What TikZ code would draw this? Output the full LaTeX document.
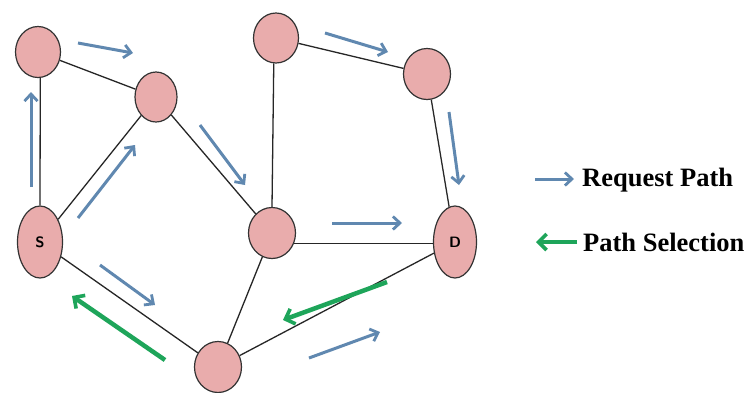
\documentclass[tikz,border=0pt]{standalone}
\usepackage{fontspec}
\setmainfont{Liberation Serif}
\usetikzlibrary{shapes.geometric,arrows.meta}
\definecolor{nodepink}{RGB}{233,172,172}
\definecolor{reqblue}{RGB}{96,136,176}
\definecolor{selgreen}{RGB}{30,165,90}
\tikzset{
  netnode/.style={ellipse,draw=black!80,line width=1.2pt,fill=nodepink,inner sep=0pt,
    minimum width=45pt,minimum height=51pt,font=\sffamily\bfseries\fontsize{15}{16}\selectfont},
  tallnode/.style={netnode,minimum height=72pt},
  link/.style={draw=black!85,line width=1.3pt},
  reqarrow/.style={draw=reqblue,line width=3pt,-{Straight Barb[length=7pt,width=13pt,line width=2.8pt]}},
  selarrow/.style={draw=selgreen,line width=4.5pt,-{Straight Barb[length=8pt,width=16pt,line width=3.6pt]}},
  legendtext/.style={anchor=west,inner sep=0pt,font=\bfseries\fontsize{26.5}{30}\selectfont}
}
\begin{document}
\begin{tikzpicture}[x=1pt,y=-1pt]
\useasboundingbox (0,0) rectangle (750,392);
\fill[white] (0,0) rectangle (750,392);
% nodes
\node[netnode] (A) at (38,52) {};
\node[netnode,minimum width=42pt,minimum height=50pt] (B) at (156,97) {};
\node[netnode,minimum height=50pt] (C) at (276,38) {};
\node[netnode,minimum width=47pt] (E) at (427,74) {};
\node[tallnode] (S) at (40,242) {S};
\node[netnode,minimum width=47pt] (M) at (272,233) {};
\node[tallnode,minimum width=43pt] (D) at (455,242) {D};
\node[netnode,minimum width=47pt] (F) at (218,367) {};
% links
\draw[link] (A) -- (B);
\draw[link] (A.-85) -- (S.north);
\draw[link] (S) -- (B);
\draw[link] (S) -- (F);
\draw[link] (B) -- (M);
\draw[link] (C.-95) -- (M.north);
\draw[link] (C) -- (E);
\draw[link] (E) -- (D);
\draw[link] (M.-25) -- (M.-25 -| D.west);
\draw[link] (M) -- (F);
\draw[link] (D) -- (F);
% request path arrows
\coordinate (r1a) at (31,187); \coordinate (r1b) at (31,92);
\coordinate (r2a) at (78,43);  \coordinate (r2b) at (133,53);
\coordinate (r3a) at (78,218); \coordinate (r3b) at (135,145);
\coordinate (r4a) at (200,125); \coordinate (r4b) at (245,185);
\coordinate (r5a) at (325,33); \coordinate (r5b) at (388,52);
\coordinate (r6a) at (449,112); \coordinate (r6b) at (459,185);
\coordinate (r7a) at (332,223); \coordinate (r7b) at (402,223);
\coordinate (r8a) at (100,265); \coordinate (r8b) at (155,305);
\coordinate (r9a) at (309,358); \coordinate (r9b) at (380,332);
\foreach \i in {1,...,9} {\draw[reqarrow] (r\i a) -- (r\i b);}
% path selection arrows
\coordinate (g1a) at (387,282); \coordinate (g1b) at (283,320);
\coordinate (g2a) at (165,360); \coordinate (g2b) at (72,296);
\draw[selarrow] (g1a) -- (g1b);
\draw[selarrow] (g2a) -- (g2b);
% legend
\coordinate (l1a) at (535,179); \coordinate (l1b) at (574,179);
\draw[reqarrow] (l1a) -- (l1b);
\node[legendtext] (lt1) at (582,180) {Request Path};
\coordinate (l2a) at (577,242); \coordinate (l2b) at (536,242);
\draw[selarrow] (l2a) -- (l2b);
\node[legendtext] (lt2) at (583,242) {Path Selection};
\end{tikzpicture}
\end{document}
